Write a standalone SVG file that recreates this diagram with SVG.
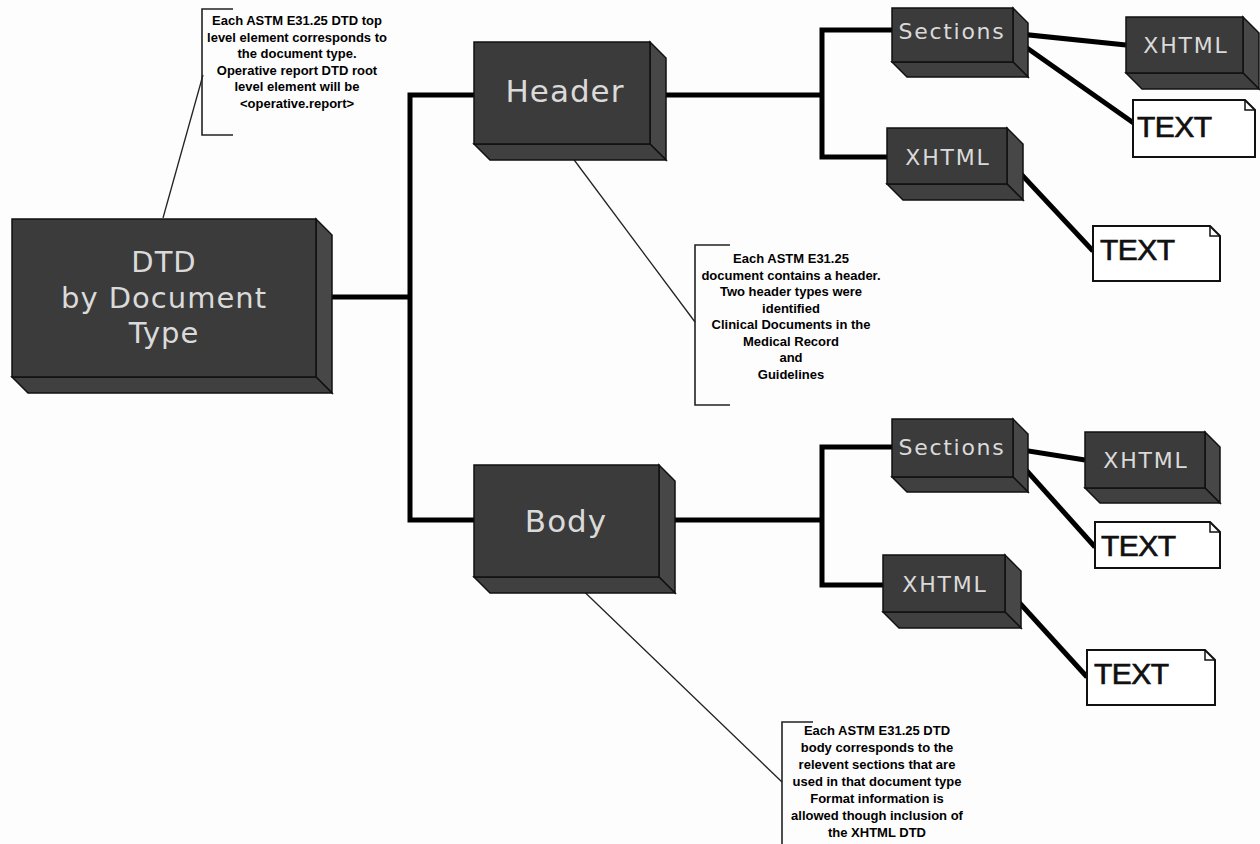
<svg xmlns="http://www.w3.org/2000/svg" width="1260" height="844" viewBox="0 0 1260 844">
<style>
.front{fill:#3b3b3b;stroke:#111;stroke-width:1.5}
.side{fill:#474747;stroke:#111;stroke-width:1.5}
.bot{fill:#404040;stroke:#111;stroke-width:1.5}
.lbl{font-family:"DejaVu Sans",Verdana,sans-serif;fill:#dadada;text-anchor:middle}
.note{fill:#fff;stroke:#111;stroke-width:2}
.fold{fill:none;stroke:#111;stroke-width:1.5}
.ntxt{font-family:"Liberation Sans",Arial,sans-serif;font-size:30px;fill:#111;stroke:#111;stroke-width:0.7;letter-spacing:-0.5px}
.conn{fill:none;stroke:#000;stroke-width:5;stroke-linejoin:miter}
.lead{fill:none;stroke:#222;stroke-width:1.3}
.brk{fill:none;stroke:#222;stroke-width:1.6}
.ann{font-family:"Liberation Sans",Arial,sans-serif;font-weight:bold;font-size:13px;fill:#000;text-anchor:middle}
</style>
<rect width="1260" height="844" fill="#fdfdfd"/>

<g id="connectors">
<polyline class="conn" points="316,297 410,297"/>
<polyline class="conn" points="474,95 410,95 410,520 474,520"/>
<polyline class="conn" points="650,95 822,95"/>
<polyline class="conn" points="892,30 822,30 822,157 887,157"/>
<polyline class="conn" points="1010,33 1126,45"/>
<polyline class="conn" points="1010,36 1135,124"/>
<polyline class="conn" points="1008,160 1093,251"/>
<polyline class="conn" points="659,520 822,520"/>
<polyline class="conn" points="892,447 822,447 822,585 883,585"/>
<polyline class="conn" points="1010,448 1085,460"/>
<polyline class="conn" points="1010,452 1095,547"/>
<polyline class="conn" points="1005,587 1087,677"/>
<line class="lead" x1="163" y1="218" x2="203" y2="75"/>
<line class="lead" x1="563" y1="145" x2="695" y2="322"/>
<line class="lead" x1="570" y1="578" x2="782" y2="782"/>
</g>

<g id="dtd">
<polygon class="side" points="316,219 332,235 332,393 316,377"/>
<polygon class="bot" points="12,377 316,377 332,393 28,393"/>
<rect class="front" x="12" y="219" width="304" height="158"/>
<text class="lbl" font-size="29" letter-spacing="1" x="164" y="272">DTD</text>
<text class="lbl" font-size="29" letter-spacing="1" x="164" y="308">by Document</text>
<text class="lbl" font-size="29" letter-spacing="1" x="164" y="343">Type</text>
</g>

<g id="header">
<polygon class="side" points="650,42 666,58 666,160 650,144"/>
<polygon class="bot" points="474,144 650,144 666,160 490,160"/>
<rect class="front" x="474" y="42" width="176" height="102"/>
<text class="lbl" font-size="31" letter-spacing="1" x="565" y="102">Header</text>
</g>

<g id="body">
<polygon class="side" points="659,465 675,481 675,593 659,577"/>
<polygon class="bot" points="474,577 659,577 675,593 490,593"/>
<rect class="front" x="474" y="465" width="185" height="112"/>
<text class="lbl" font-size="31" letter-spacing="1" x="566" y="532">Body</text>
</g>

<g id="header-sections">
<polygon class="side" points="1013,8 1028,23 1028,77 1013,62"/>
<polygon class="bot" points="892,62 1013,62 1028,77 907,77"/>
<rect class="front" x="892" y="8" width="121" height="54"/>
<text class="lbl" font-size="22" letter-spacing="1.7" x="952" y="39">Sections</text>
</g>

<g id="header-sections-xhtml">
<polygon class="side" points="1243,17 1259,33 1259,89 1243,73"/>
<polygon class="bot" points="1126,73 1243,73 1259,89 1142,89"/>
<rect class="front" x="1126" y="17" width="117" height="56"/>
<text class="lbl" font-size="22" letter-spacing="1.8" x="1186" y="53">XHTML</text>
</g>

<g id="header-sections-text">
<polygon class="note" points="1133,100 1245,100 1255,110 1255,157 1133,157"/>
<polyline class="fold" points="1245,100 1245,110 1255,110"/>
<text class="ntxt" x="1137" y="137">TEXT</text>
</g>

<g id="header-xhtml">
<polygon class="side" points="1007,128 1023,144 1023,200 1007,184"/>
<polygon class="bot" points="887,184 1007,184 1023,200 903,200"/>
<rect class="front" x="887" y="128" width="120" height="56"/>
<text class="lbl" font-size="22" letter-spacing="1.8" x="948" y="165">XHTML</text>
</g>

<g id="header-xhtml-text">
<polygon class="note" points="1093,226 1210,226 1220,236 1220,281 1093,281"/>
<polyline class="fold" points="1210,226 1210,236 1220,236"/>
<text class="ntxt" x="1100" y="260">TEXT</text>
</g>

<g id="body-sections">
<polygon class="side" points="1013,419 1028,434 1028,492 1013,477"/>
<polygon class="bot" points="892,477 1013,477 1028,492 907,492"/>
<rect class="front" x="892" y="419" width="121" height="58"/>
<text class="lbl" font-size="22" letter-spacing="1.7" x="952" y="455">Sections</text>
</g>

<g id="body-sections-xhtml">
<polygon class="side" points="1205,432 1220,447 1220,503 1205,488"/>
<polygon class="bot" points="1085,488 1205,488 1220,503 1100,503"/>
<rect class="front" x="1085" y="432" width="120" height="56"/>
<text class="lbl" font-size="22" letter-spacing="1.8" x="1146" y="468">XHTML</text>
</g>

<g id="body-sections-text">
<polygon class="note" points="1095,522 1210,522 1220,532 1220,568 1095,568"/>
<polyline class="fold" points="1210,522 1210,532 1220,532"/>
<text class="ntxt" x="1101" y="556">TEXT</text>
</g>

<g id="body-xhtml">
<polygon class="side" points="1005,555 1021,571 1021,628 1005,612"/>
<polygon class="bot" points="883,612 1005,612 1021,628 899,628"/>
<rect class="front" x="883" y="555" width="122" height="57"/>
<text class="lbl" font-size="22" letter-spacing="1.8" x="945" y="592">XHTML</text>
</g>

<g id="body-xhtml-text">
<polygon class="note" points="1087,650 1205,650 1215,660 1215,705 1087,705"/>
<polyline class="fold" points="1205,650 1205,660 1215,660"/>
<text class="ntxt" x="1094" y="684">TEXT</text>
</g>

<g id="note-dtd">
<polyline class="brk" points="233,9 202,9 202,135 233,135"/>
<text class="ann" x="297" y="25">Each ASTM E31.25 DTD top</text>
<text class="ann" x="297" y="42">level element corresponds to</text>
<text class="ann" x="297" y="58">the document type.</text>
<text class="ann" x="297" y="75">Operative report DTD root</text>
<text class="ann" x="297" y="91">level element will be</text>
<text class="ann" x="297" y="108">&lt;operative.report&gt;</text>
</g>

<g id="note-header">
<polyline class="brk" points="730,245 695,245 695,405 730,405"/>
<text class="ann" x="791" y="263">Each ASTM E31.25</text>
<text class="ann" x="791" y="280">document contains a header.</text>
<text class="ann" x="791" y="296">Two header types were</text>
<text class="ann" x="791" y="313">identified</text>
<text class="ann" x="791" y="329">Clinical Documents in the</text>
<text class="ann" x="791" y="346">Medical Record</text>
<text class="ann" x="791" y="362">and</text>
<text class="ann" x="791" y="379">Guidelines</text>
</g>

<g id="note-body">
<polyline class="brk" points="813,722 782,722 782,850"/>
<text class="ann" x="877" y="735">Each ASTM E31.25 DTD</text>
<text class="ann" x="877" y="752">body corresponds to the</text>
<text class="ann" x="877" y="769">relevent sections that are</text>
<text class="ann" x="877" y="786">used in that document type</text>
<text class="ann" x="877" y="803">Format information is</text>
<text class="ann" x="877" y="820">allowed though inclusion of</text>
<text class="ann" x="877" y="837">the XHTML DTD</text>
</g>
</svg>
